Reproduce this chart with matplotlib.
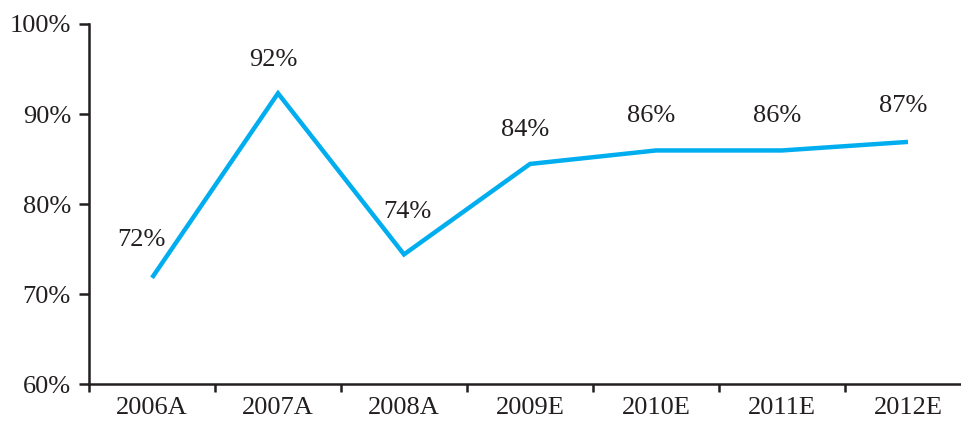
import matplotlib
matplotlib.use("Agg")
import matplotlib.pyplot as plt

categories = ["2006A", "2007A", "2008A", "2009E", "2010E", "2011E", "2012E"]
values = [71.8, 92.3, 74.4, 84.45, 85.95, 85.95, 86.9]
y_ticks = [60, 70, 80, 90, 100]

plt.rcParams["font.family"] = ["Liberation Serif", "DejaVu Serif"]
ink = "#231F20"
line_color = "#00AEEF"

fig = plt.figure(figsize=(9.61, 4.23), dpi=100)
W, H = 961, 423
left, right, top, bottom = 89, 971, 24, 384
ax = fig.add_axes([left / W, 1 - bottom / H, (right - left) / W, (bottom - top) / H])

x = list(range(len(categories)))
ax.plot(x, values, color=line_color, lw=3.2, solid_joinstyle="miter",
        solid_capstyle="butt", clip_on=False)

# value labels above each point (offsets in pixels)
dx_px = [-11, -5, 3, -5, -5, -5, -5]
dy_px = [38, 33, 42, 34, 34, 34, 36]
for xi, v, dx, dy in zip(x, values, dx_px, dy_px):
    ax.annotate(f"{v:.0f}%", (xi, v), xytext=(dx * 0.72, dy * 0.72), textcoords="offset points",
                ha="center", va="center", fontsize=19, color=ink)

ax.set_xlim(-0.5, len(categories) - 0.5)
ax.set_ylim(60, 100)
ax.set_yticks(y_ticks)
ax.set_yticklabels([f"{t}%" for t in y_ticks])

# category ticks sit on the boundaries between categories
ax.set_xticks([i - 0.5 for i in range(len(categories) + 1)])
ax.set_xticklabels([])
ax.set_xticks(x, minor=True)
ax.set_xticklabels(categories, minor=True)
ax.tick_params(axis="x", which="minor", length=0, pad=9, labelsize=19, labelcolor=ink)
ax.tick_params(axis="x", which="major", length=6, width=1.8, color=ink, direction="out")
ax.tick_params(axis="y", length=7.5, width=1.8, color=ink, pad=5.5, labelsize=19, labelcolor=ink)

for s in ["top", "right"]:
    ax.spines[s].set_visible(False)
for s in ["left", "bottom"]:
    ax.spines[s].set_linewidth(1.8)
    ax.spines[s].set_color(ink)

fig.savefig("out.png", dpi=100)
